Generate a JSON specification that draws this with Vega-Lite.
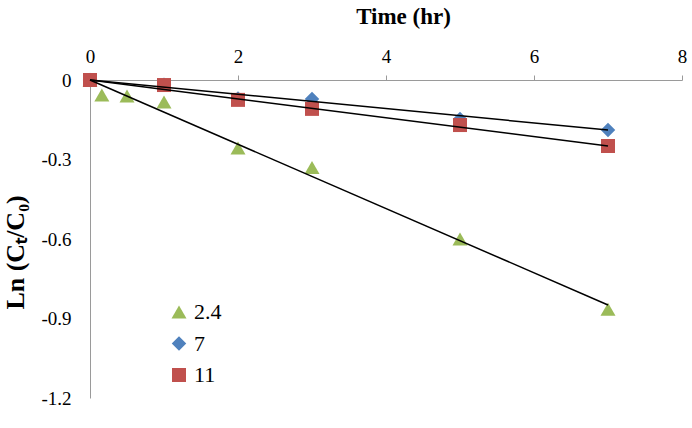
{
  "$schema": "https://vega.github.io/schema/vega-lite/v6.json",
  "width": 592,
  "height": 318,
  "autosize": {"type": "none"},
  "padding": {"left": 90, "top": 80, "right": 10, "bottom": 30},
  "background": "white",
  "config": {
    "view": {"stroke": null},
    "font": "Liberation Serif"
  },
  "datasets": {
    "points": [
      {"time": 0, "lnc": 0, "pH": "2.4"},
      {"time": 0.16, "lnc": -0.057, "pH": "2.4"},
      {"time": 0.5, "lnc": -0.06, "pH": "2.4"},
      {"time": 1, "lnc": -0.083, "pH": "2.4"},
      {"time": 2, "lnc": -0.257, "pH": "2.4"},
      {"time": 3, "lnc": -0.33, "pH": "2.4"},
      {"time": 5, "lnc": -0.6, "pH": "2.4"},
      {"time": 7, "lnc": -0.865, "pH": "2.4"},
      {"time": 0, "lnc": 0, "pH": "7"},
      {"time": 1, "lnc": -0.018, "pH": "7"},
      {"time": 2, "lnc": -0.07, "pH": "7"},
      {"time": 3, "lnc": -0.072, "pH": "7"},
      {"time": 5, "lnc": -0.147, "pH": "7"},
      {"time": 7, "lnc": -0.189, "pH": "7"},
      {"time": 0, "lnc": 0, "pH": "11"},
      {"time": 1, "lnc": -0.019, "pH": "11"},
      {"time": 2, "lnc": -0.075, "pH": "11"},
      {"time": 3, "lnc": -0.109, "pH": "11"},
      {"time": 5, "lnc": -0.17, "pH": "11"},
      {"time": 7, "lnc": -0.249, "pH": "11"}
    ],
    "trend": [
      {"time": 0, "lnc": 0, "pH": "2.4"},
      {"time": 7, "lnc": -0.849, "pH": "2.4"},
      {"time": 0, "lnc": 0, "pH": "7"},
      {"time": 7, "lnc": -0.189, "pH": "7"},
      {"time": 0, "lnc": 0, "pH": "11"},
      {"time": 7, "lnc": -0.249, "pH": "11"}
    ]
  },
  "layer": [
    {
      "data": {"name": "points"},
      "mark": {"type": "point", "filled": true, "opacity": 1},
      "encoding": {
        "x": {
          "field": "time", "type": "quantitative",
          "scale": {"domain": [0, 8], "nice": false},
          "axis": {
            "orient": "top",
            "title": "Time (hr)",
            "titleFont": "Liberation Serif",
            "titleFontSize": 23,
            "titleFontWeight": "bold",
            "titleColor": "black",
            "titleX": 313,
            "titleY": -57,
            "titleAlign": "center",
            "titleBaseline": "alphabetic",
            "values": [0, 2, 4, 6, 8],
            "format": "d",
            "labelFlush": false,
            "labelFont": "Liberation Serif",
            "labelFontSize": 19,
            "labelColor": "black",
            "labelPadding": 9,
            "domainColor": "#9a9a9a",
            "tickColor": "#9a9a9a",
            "tickSize": 5,
            "grid": false
          }
        },
        "y": {
          "field": "lnc", "type": "quantitative",
          "scale": {"domain": [-1.2, 0], "nice": false},
          "axis": {
            "title": "Ln (Cₜ/C₀)",
            "titleFont": "Liberation Serif",
            "titleFontSize": 26,
            "titleFontWeight": "bold",
            "titleColor": "black",
            "titleAngle": 270,
            "titleAlign": "center",
            "titleBaseline": "alphabetic",
            "titleX": -67,
            "titleY": 172,
            "values": [0, -0.3, -0.6, -0.9, -1.2],
            "labelExpr": "datum.value == 0 ? '0' : '-' + format(-datum.value, '.1f')",
            "labelFlush": false,
            "labelFont": "Liberation Serif",
            "labelFontSize": 19,
            "labelColor": "black",
            "labelPadding": 19,
            "domainColor": "#9a9a9a",
            "ticks": false,
            "grid": false
          }
        },
        "color": {
          "field": "pH", "type": "nominal",
          "scale": {"domain": ["2.4", "7", "11"], "range": ["#9BBB59", "#4F81BD", "#C0504D"]},
          "legend": {
            "orient": "none",
            "legendX": 78,
            "legendY": 221,
            "title": null,
            "labelFont": "Liberation Serif",
            "labelFontSize": 22,
            "labelColor": "black",
            "symbolSize": 225,
            "symbolOpacity": 1,
            "rowPadding": 9.5,
            "labelOffset": 4
          }
        },
        "shape": {
          "field": "pH", "type": "nominal",
          "scale": {"domain": ["2.4", "7", "11"], "range": ["triangle-up", "diamond", "square"]},
          "legend": null
        },
        "size": {
          "field": "pH", "type": "nominal",
          "scale": {"domain": ["2.4", "7", "11"], "range": [225, 196, 240]},
          "legend": null
        },
        "order": {"field": "time"}
      }
    },
    {
      "data": {"name": "trend"},
      "mark": {"type": "line", "color": "black", "strokeWidth": 1.5},
      "encoding": {
        "x": {"field": "time", "type": "quantitative"},
        "y": {"field": "lnc", "type": "quantitative"},
        "detail": {"field": "pH", "type": "nominal"}
      }
    }
  ]
}
